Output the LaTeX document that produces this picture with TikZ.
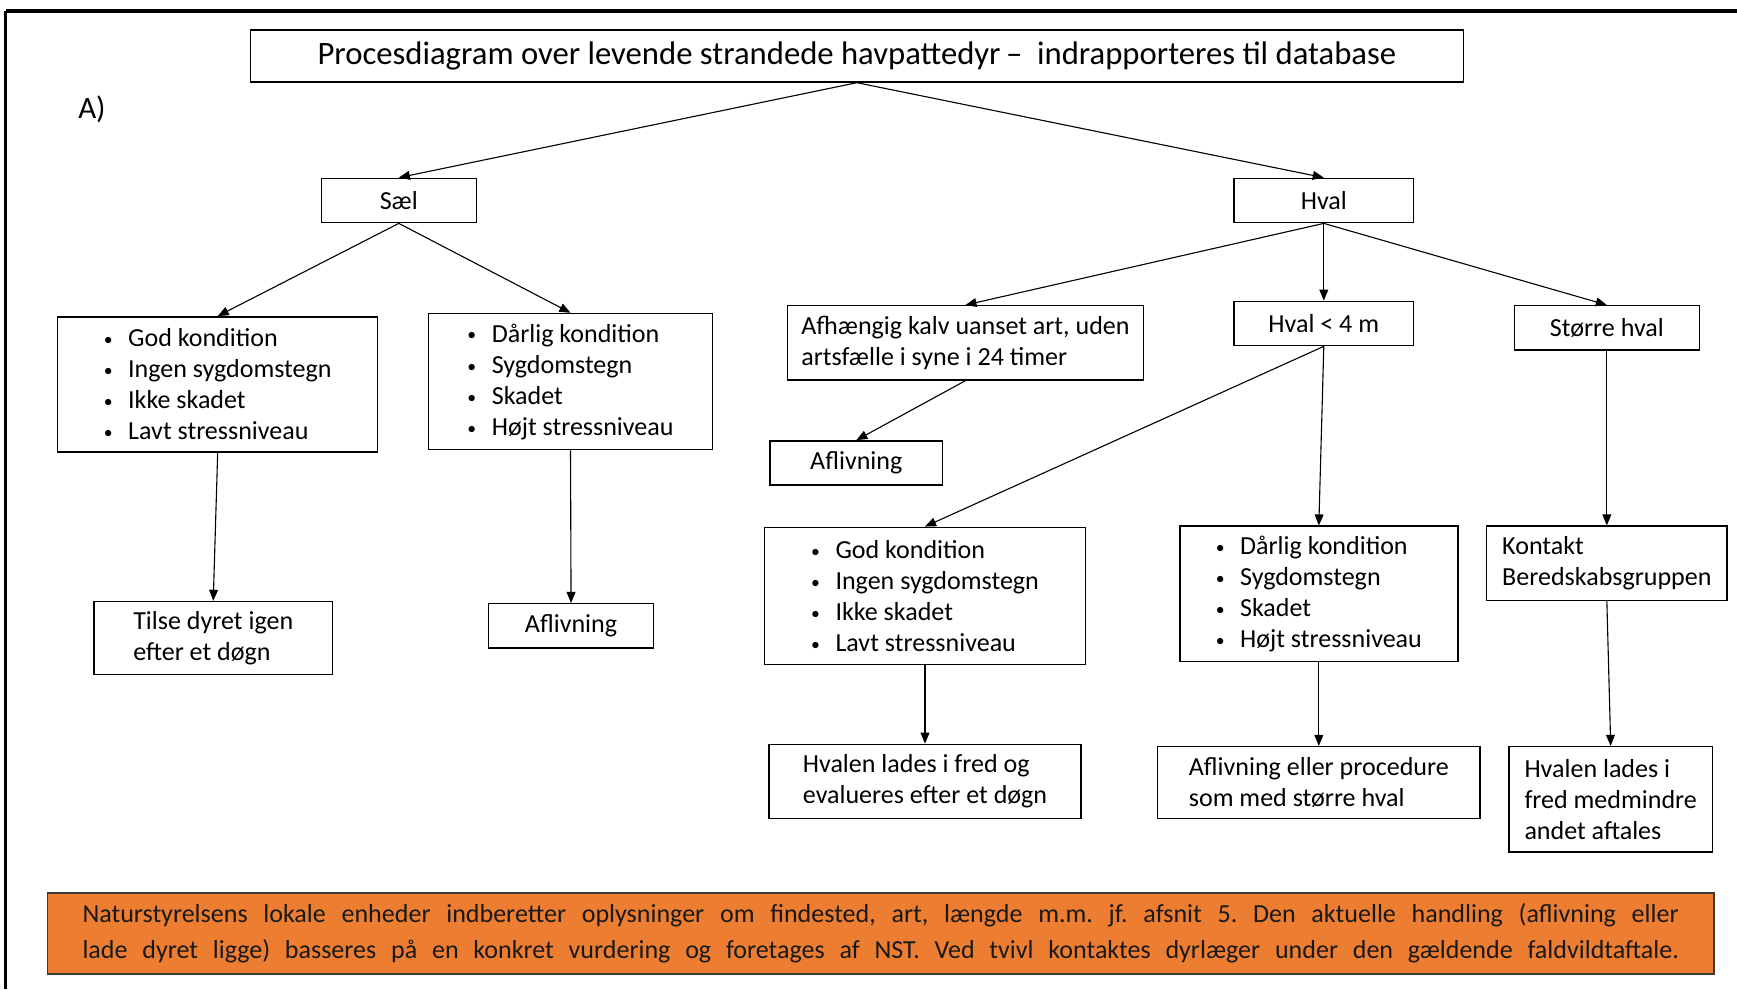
\documentclass[tikz,border=0pt]{standalone}
\usepackage{fontspec}
\setmainfont{Carlito}
\usetikzlibrary{arrows.meta}
\definecolor{orangefill}{HTML}{ED7D31}
\definecolor{boxedge}{HTML}{3A3A3A}
\frenchspacing
\newcommand{\bul}[1]{\mbox{\makebox[22pt][l]{\raisebox{1pt}{\fontsize{16}{16}\selectfont •}}#1}}
\tikzset{
  box/.style={draw=black, line width=1.3pt, inner sep=0pt, align=left, font=\fontsize{23.5}{28}\selectfont},
  arr/.style={line width=1pt, -{Triangle[length=10pt,width=8pt]}},
}
\begin{document}
\begin{tikzpicture}[x=1pt,y=-1pt]
\useasboundingbox (0,0) rectangle (1568,893);
% frame
\draw[line width=3pt] (5,10) -- (1568,10);
\draw[line width=3pt] (5,10) -- (5,893);
\node[box, minimum width=1095pt, minimum height=47pt, font=\fontsize{29.5}{32}\selectfont] (title) at (773.5,50.5) {Procesdiagram over levende strandede havpattedyr\,–\ \ indrapporteres til database};
\node[font=\fontsize{28}{30}\selectfont, inner sep=0pt] (lab) at (83,99) {A)};
\node[box, minimum width=140pt, minimum height=40pt] (sael) at (360,181) {Sæl};
\node[box, minimum width=162pt, minimum height=40pt] (hval) at (1195,181) {Hval};
\node[box, minimum width=289pt, minimum height=122pt] (sgood) at (196.5,347) {\bul{God kondition}\\\bul{Ingen sygdomstegn}\\\bul{Ikke skadet}\\\bul{Lavt stressniveau}};
\node[box, minimum width=256pt, minimum height=123pt] (sbad) at (515,344.5) {\bul{Dårlig kondition}\\\bul{Sygdomstegn}\\\bul{Skadet}\\\bul{Højt stressniveau}};
\node[box, minimum width=215pt, minimum height=66pt] (tilse) at (192.5,576) {Tilse dyret igen\\efter et døgn};
\node[box, minimum width=149pt, minimum height=40pt] (safl) at (515.5,565) {Aflivning};
\node[box, minimum width=321pt, minimum height=67pt] (calf) at (871.5,309.5) {Afhængig kalv uanset art, uden\\artsfælle i syne i 24 timer};
\node[box, minimum width=162pt, minimum height=40pt] (small) at (1195,292) {Hval < 4 m};
\node[box, minimum width=167pt, minimum height=40pt] (large) at (1450.5,296) {Større hval};
\node[box, minimum width=156pt, minimum height=40pt] (cafl) at (773,418) {Aflivning};
\node[box, minimum width=290pt, minimum height=124pt] (wgood) at (835,538) {\bul{God kondition}\\\bul{Ingen sygdomstegn}\\\bul{Ikke skadet}\\\bul{Lavt stressniveau}};
\node[box, minimum width=251pt, minimum height=122pt] (wbad) at (1190.5,536) {\bul{Dårlig kondition}\\\bul{Sygdomstegn}\\\bul{Skadet}\\\bul{Højt stressniveau}};
\node[box, minimum width=217pt, minimum height=67pt] (kontakt) at (1450.5,508.5) {Kontakt\\Beredskabsgruppen};
\node[box, minimum width=282pt, minimum height=67pt] (wfred) at (835,705.5) {Hvalen lades i fred og\\evalueres efter et døgn};
\node[box, minimum width=291pt, minimum height=65pt] (wafl) at (1190.5,706.5) {Aflivning eller procedure\\som med større hval};
\node[box, minimum width=184pt, minimum height=95pt] (wlarge) at (1454,721.5) {Hvalen lades i\\fred medmindre\\andet aftales};
\node[draw=boxedge, fill=orangefill, line width=1.5pt, minimum width=1504pt, minimum height=73pt, inner sep=0pt, align=left, font=\fontsize{23.5}{32}\selectfont\frenchspacing, text=black!90] (note) at (795,842.5) {\makebox[1441pt][s]{Naturstyrelsens lokale enheder indberetter oplysninger om findested, art, længde m.m. jf. afsnit 5. Den aktuelle handling (aflivning eller}\\\makebox[1441pt][s]{lade dyret ligge) basseres på en konkret vurdering og foretages af NST. Ved tvivl kontaktes dyrlæger under den gældende faldvildtaftale.}};
% connectors
\draw[arr] (title.south) -- (sael.north);
\draw[arr] (title.south) -- (hval.north);
\draw[arr] (sael.south) -- (sgood.north);
\draw[arr] (sael.south) -- (sbad.north);
\draw[arr] (sgood.south) -- (tilse.north);
\draw[arr] (sbad.south) -- (safl.north);
\draw[arr] (hval.south) -- (calf.north);
\draw[arr] (hval.south) -- (small.north);
\draw[arr] (hval.south) -- (large.north);
\draw[arr] (calf.south) -- (cafl.north);
\draw[arr] (small.south) -- (wgood.north);
\draw[arr] (small.south) -- (wbad.north);
\draw[arr] (large.south) -- (kontakt.north);
\draw[arr] (wgood.south) -- (wfred.north);
\draw[arr] (wbad.south) -- (wafl.north);
\draw[arr] (kontakt.south) -- (wlarge.north);
\end{tikzpicture}
\end{document}
